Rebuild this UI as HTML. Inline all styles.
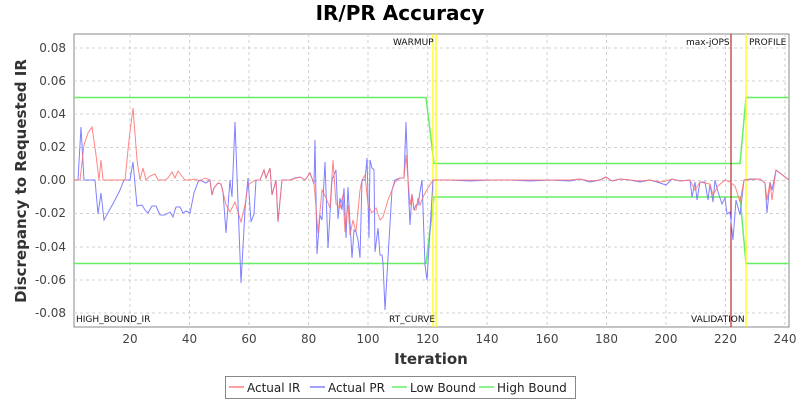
<!DOCTYPE html>
<html><head><meta charset="utf-8"><style>
body{margin:0;background:#fff;}
svg text{font-family:"DejaVu Sans","Liberation Sans",sans-serif;}
</style></head><body>
<svg width="800" height="400" xmlns="http://www.w3.org/2000/svg">
<rect width="800" height="400" fill="#fff"/>
<text x="400" y="20" text-anchor="middle" font-size="20" font-weight="bold">IR/PR Accuracy</text>
<rect x="74" y="34" width="715" height="293" fill="#fff" stroke="#888"/>
<g stroke="#d0d0d0" stroke-dasharray="3,3" stroke-width="1">
<line x1="130" y1="34" x2="130" y2="327"/><line x1="189.5" y1="34" x2="189.5" y2="327"/><line x1="249" y1="34" x2="249" y2="327"/><line x1="308.6" y1="34" x2="308.6" y2="327"/><line x1="368" y1="34" x2="368" y2="327"/><line x1="427.7" y1="34" x2="427.7" y2="327"/><line x1="487" y1="34" x2="487" y2="327"/><line x1="547" y1="34" x2="547" y2="327"/><line x1="606.5" y1="34" x2="606.5" y2="327"/><line x1="666" y1="34" x2="666" y2="327"/><line x1="725.5" y1="34" x2="725.5" y2="327"/><line x1="785" y1="34" x2="785" y2="327"/>
<line x1="74" y1="48" x2="789" y2="48"/><line x1="74" y1="81" x2="789" y2="81"/><line x1="74" y1="114" x2="789" y2="114"/><line x1="74" y1="147.5" x2="789" y2="147.5"/><line x1="74" y1="180.5" x2="789" y2="180.5"/><line x1="74" y1="213.5" x2="789" y2="213.5"/><line x1="74" y1="247" x2="789" y2="247"/><line x1="74" y1="280" x2="789" y2="280"/><line x1="74" y1="313" x2="789" y2="313"/>
</g>
<g font-size="12" fill="#444" text-anchor="end">
<text x="66" y="52">0.08</text><text x="66" y="85">0.06</text><text x="66" y="118">0.04</text><text x="66" y="151">0.02</text><text x="66" y="184">0.00</text><text x="66" y="217">-0.02</text><text x="66" y="251">-0.04</text><text x="66" y="284">-0.06</text><text x="66" y="317">-0.08</text>
</g>
<g font-size="12" fill="#444" text-anchor="middle">
<text x="130" y="343">20</text><text x="189.5" y="343">40</text><text x="249" y="343">60</text><text x="308.6" y="343">80</text><text x="368" y="343">100</text><text x="427.7" y="343">120</text><text x="487" y="343">140</text><text x="547" y="343">160</text><text x="606.5" y="343">180</text><text x="666" y="343">200</text><text x="725.5" y="343">220</text><text x="785" y="343">240</text>
</g>
<text x="431" y="364" text-anchor="middle" font-size="15" font-weight="bold" fill="#333">Iteration</text>
<text transform="translate(26,181) rotate(-90)" text-anchor="middle" font-size="15" font-weight="bold" fill="#333">Discrepancy to Requested IR</text>
<g fill="none" stroke-width="1.5" stroke="#66ee66">
<polyline points="74,97.5 426,97.5 434,163.5 740,163.5 746,97.5 789,97.5"/>
<polyline points="74,263.5 426,263.5 434,197 740,197 746,263.5 789,263.5"/>
</g>
<line x1="731" y1="34" x2="731" y2="327" stroke="#aa0000" stroke-width="1"/>
<line x1="433" y1="34" x2="433" y2="327" stroke="#ffff00" stroke-width="1.3"/>
<line x1="436" y1="34" x2="436" y2="327" stroke="#ffff00" stroke-width="1.3"/>
<line x1="746" y1="34" x2="746" y2="327" stroke="#ffff00" stroke-width="1.3"/>
<polyline fill="none" stroke="#8080ff" stroke-width="1" points="74,180 78,180 81,127 84,180 95,180 98,214 101,193 104,220 115,200 120,190 124,180 130,180 133,162 137,206 142,205 145,210 148,213 152,206 156,206 160,215 165,215 170,212 173,217 176,207 180,207 183,213 186,211 190,213 194,193 198,182 200,180 206,183 210,180 212,195 214,188 218,183 221,184 223,192 226,233 230,180 232,197 235,122 241,283 245,210 248,178 251,222 254,214 256,180 260,180 264,170 266,178 270,168 272,195 276,180 278,222 282,180 290,180 295,178 300,177 305,180 310,173 314,184 315,140 317,254 320,215 322,220 325,162 328,248 332,180 336,170 338,219 340,198 342,210 344,188 346,238 348,187 352,258 354,230 356,232 358,240 360,258 362,180 365,180 367,158 369,238 370,160 372,168 374,170 375,252 378,228 380,255 382,255 383,263 385,310 388,258 392,190 395,180 400,178 404,178 406,122 408,180 410,225 412,194 414,210 416,205 418,205 420,192 422,180 425,265 427,280 433,180 450,180 470,181 490,180 510,180 530,181 550,180 570,181 580,179 590,182 600,180 606,177 612,181 620,179 630,180 640,182 650,180 660,183 666,185 672,179 680,181 690,180 692,197 695,182 697,200 700,182 705,182 708,200 710,184 713,202 715,180 718,192 722,204 725,198 727,214 730,212 733,240 736,200 740,215 744,180 750,179 760,179 765,183 767,213 770,182 772,190 776,170 789,180"/>
<polyline fill="none" stroke="#ff7070" stroke-width="1" stroke-opacity="0.85" points="74,180 80,180 84,145 88,133 92,127 96,155 99,180 101,160 103,180 110,180 125,180 129,140 133,108 137,160 140,180 143,168 146,180 150,176 155,174 158,180 165,180 168,178 172,172 175,178 178,171 181,175 185,180 190,180 195,179 200,181 205,178 210,180 212,195 214,188 218,183 221,184 223,192 226,205 230,212 235,202 241,222 245,205 248,185 252,182 256,180 260,180 264,170 266,178 270,168 272,195 276,180 278,222 282,180 290,180 300,177 305,180 310,173 314,184 315,195 318,233 322,190 326,198 330,208 333,160 336,204 340,208 343,195 345,232 348,205 350,235 353,220 356,232 360,190 362,180 365,175 368,205 372,213 376,208 380,220 383,217 388,200 392,190 395,182 400,178 404,178 406,155 408,178 410,205 412,195 414,210 416,210 418,198 420,205 424,195 428,188 433,180 450,180 470,180 490,180 510,180 530,180 550,180 570,180 580,179 590,181 600,180 606,177 612,181 620,179 630,180 640,181 650,180 660,182 666,181 672,179 680,181 690,180 695,190 700,182 710,184 713,195 718,186 725,180 730,182 735,186 740,202 744,180 760,179 765,183 767,200 770,182 772,200 776,170 789,180"/>
<g font-size="9" fill="#111">
<text x="76" y="322">HIGH_BOUND_IR</text>
<text x="389" y="322">RT_CURVE</text>
<text x="691" y="322">VALIDATION</text>
<text x="393" y="45">WARMUP</text>
<text x="686" y="45">max-jOPS</text>
<text x="749" y="45">PROFILE</text>
</g>
<rect x="225.5" y="376.5" width="350" height="22" fill="#fff" stroke="#888"/>
<g font-size="12" fill="#222">
<line x1="229" y1="387" x2="244" y2="387" stroke="#ff8080" stroke-width="1.5"/><text x="247" y="392">Actual IR</text>
<line x1="310" y1="387" x2="325" y2="387" stroke="#8080ff" stroke-width="1.5"/><text x="328" y="392">Actual PR</text>
<line x1="392" y1="387" x2="407" y2="387" stroke="#66ee66" stroke-width="1.5"/><text x="410" y="392">Low Bound</text>
<line x1="479" y1="387" x2="494" y2="387" stroke="#66ee66" stroke-width="1.5"/><text x="497" y="392">High Bound</text>
</g>
</svg>
</body></html>
